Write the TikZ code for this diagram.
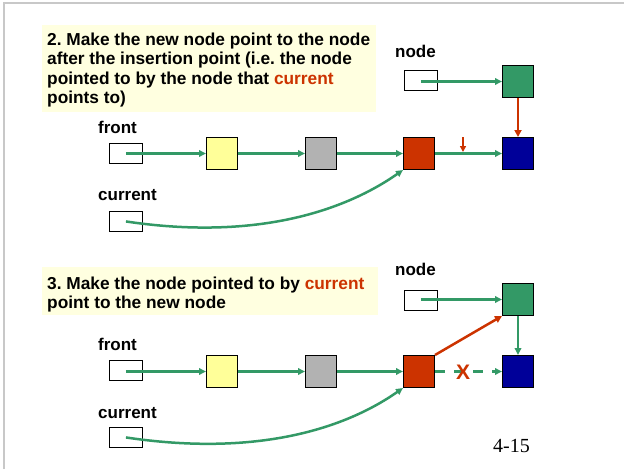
\documentclass[tikz,border=0pt]{standalone}
\usepackage{fontspec}
\setmainfont{Liberation Sans}
\newfontfamily\pagefont{Liberation Serif}
\usetikzlibrary{arrows.meta}
\frenchspacing

\definecolor{lnkgreen}{HTML}{339966}
\definecolor{lnkred}{HTML}{CC3300}
\definecolor{lnkblue}{HTML}{000099}
\definecolor{lnkyellow}{HTML}{FFFF99}
\definecolor{lnkgray}{HTML}{B2B2B2}
\definecolor{notefill}{HTML}{FFFFE0}
\definecolor{framegray}{HTML}{C8C8C8}

\tikzset{
  listnode/.style={draw=black, line width=1pt, minimum width=31pt,
    minimum height=32pt, inner sep=0pt, anchor=north west},
  ptrbox/.style={draw=black, fill=white, line width=0.9pt, minimum width=33pt,
    minimum height=20pt, inner sep=0pt, anchor=north west},
  link/.style={lnkgreen, line width=2.5pt, -{Triangle[length=7pt,width=6.5pt]}},
  redlink/.style={lnkred, line width=2.5pt, -{Triangle[length=7pt,width=7pt]}},
  lbl/.style={font=\fontsize{17}{19}\selectfont\bfseries, anchor=base west, inner sep=0pt},
  notebox/.style={fill=notefill, anchor=north west, inner sep=0pt},
  notetext/.style={anchor=north west, inner sep=0pt, align=left,
    font=\fontsize{17.3}{19.5}\selectfont\bfseries},
}

\begin{document}
\begin{tikzpicture}[x=1pt, y=-1pt]
\useasboundingbox (0,0) rectangle (624,469);

% slide frame
\draw[framegray, line width=1.5pt] (4,469) -- (4,3) -- (624,3);

% ---------- step 2 ----------
\node[notebox, minimum width=334pt, minimum height=87pt] (t1box) at (42,25) {};
\node[notetext] (t1) at (47,32.5)
  {2. Make the new node point to the node\\after the insertion point (i.e. the node\\pointed to by the node that \textcolor{lnkred}{current}\\points to)};

\node[lbl] (lnode1) at (395,57) {node};
\node[lbl] (lfront1) at (98,133) {front};
\node[lbl] (lcur1) at (98,200) {current};

\node[ptrbox] (node1) at (404,70) {};
\node[ptrbox] (front1) at (109,143) {};
\node[ptrbox] (cur1) at (109,211) {};

\node[listnode, fill=lnkgreen] (new1) at (502,65) {};
\node[listnode, fill=lnkyellow] (y1) at (206,137) {};
\node[listnode, fill=lnkgray] (g1) at (305,137) {};
\node[listnode, fill=lnkred] (r1) at (403,137) {};
\node[listnode, fill=lnkblue] (b1) at (502,137) {};

\draw[link] (node1.center |- new1.west) -- (new1.west);
\draw[link] (front1.center |- y1.west) -- (y1.west);
\draw[link] (y1) -- (g1);
\draw[link] (g1) -- (r1);
\draw[link] (r1) -- (b1);
\draw[redlink] (new1) -- (b1);
\draw[link] (cur1.center) .. controls (250,240) and (340,214) .. (r1.south west);

\coordinate (mark1) at (463,137);
\coordinate (mark1tip) at (463,152);
\draw[lnkred, line width=2pt, -{Triangle[length=6pt,width=6pt]}] (mark1) -- (mark1tip);

% ---------- step 3 ----------
\node[notebox, minimum width=336pt, minimum height=48pt] (t2box) at (42,267) {};
\node[notetext] (t2) at (47,276.5)
  {3. Make the node pointed to by \textcolor{lnkred}{current}\\point to the new node};

\node[lbl] (lnode2) at (395,275) {node};
\node[lbl] (lfront2) at (98,350) {front};
\node[lbl] (lcur2) at (98,418) {current};

\node[ptrbox] (node2) at (404,290) {};
\node[ptrbox] (front2) at (109,360) {};
\node[ptrbox] (cur2) at (109,427) {};

\node[listnode, fill=lnkgreen] (new2) at (502,283) {};
\node[listnode, fill=lnkyellow] (y2) at (206,355) {};
\node[listnode, fill=lnkgray] (g2) at (305,355) {};
\node[listnode, fill=lnkred] (r2) at (403,355) {};
\node[listnode, fill=lnkblue] (b2) at (502,355) {};

\draw[link] (node2.center |- new2.west) -- (new2.west);
\draw[link] (front2.center |- y2.west) -- (y2.west);
\draw[link] (y2) -- (g2);
\draw[link] (g2) -- (r2);
\draw[link] (new2) -- (b2);
\draw[link, dash pattern=on 10pt off 9pt] (r2) -- (b2);
\draw[redlink] (r2.north east) -- (new2.south west);
\draw[link] (cur2.center) .. controls (250,456) and (340,432) .. (r2.south west);

\node[text=lnkred, font=\fontsize{21}{21}\selectfont\bfseries, inner sep=0pt] (cross) at (463,372) {X};

% page number
\node[anchor=base west, inner sep=0pt, font=\pagefont\fontsize{20}{20}\selectfont] (pg) at (493,452) {4-15};
\end{tikzpicture}
\end{document}
